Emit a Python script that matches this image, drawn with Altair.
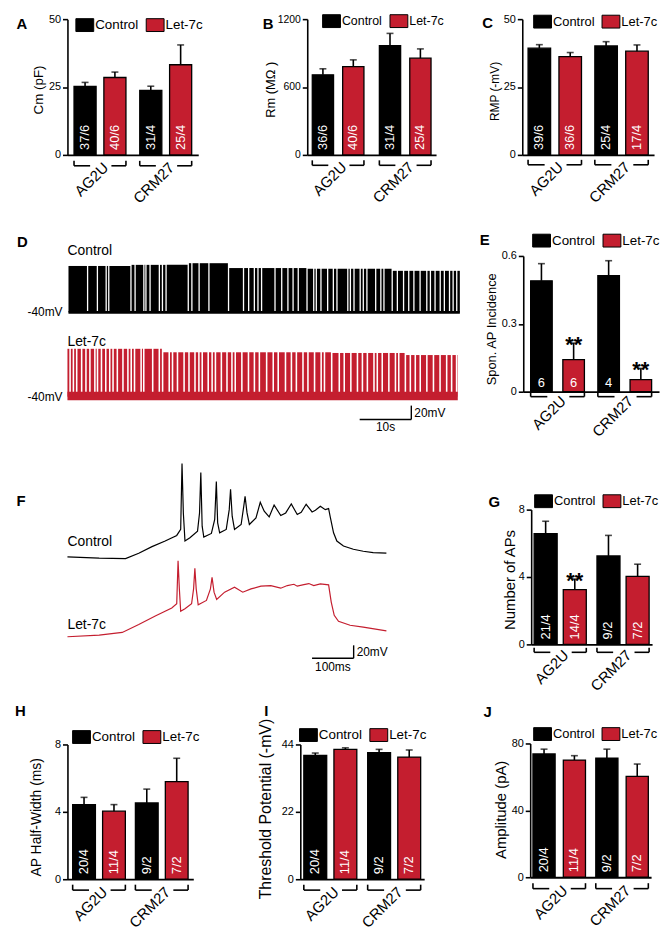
import altair as alt
import pandas as pd

RED = "#C41E2F"
FONT = "Liberation Sans, Arial, Helvetica, sans-serif"
VIEW_W, VIEW_H = 658, 922

GROUPS = ["AG2U", "CRM27"]
CONDS = ["Control", "Let-7c"]

# ---------------- bar-chart data: mean, s.e.m., n (cells/cultures) ----------------
A_mean = [25.2, 28.5, 23.8, 33.2]
A_sem = [1.5, 2.0, 1.5, 7.3]
A_n = ["37/6", "40/6", "31/4", "25/4"]

B_mean = [708, 781, 966, 855]
B_sem = [53, 59, 108, 82]
B_n = ["36/6", "40/6", "31/4", "25/4"]

C_mean = [39.3, 36.2, 40.1, 38.2]
C_sem = [1.3, 1.5, 1.6, 2.3]
C_n = ["39/6", "36/6", "25/4", "17/4"]

E_mean = [0.49, 0.142, 0.513, 0.053]
E_sem = [0.076, 0.073, 0.066, 0.05]
E_n = ["6", "6", "4", ""]
E_sig = ["", "**", "", "**"]

G_mean = [6.57, 3.25, 5.25, 4.04]
G_sem = [0.74, 0.63, 1.22, 0.72]
G_n = ["21/4", "14/4", "9/2", "7/2"]
G_sig = ["", "**", "", ""]

H_mean = [4.43, 4.04, 4.53, 5.8]
H_sem = [0.43, 0.39, 0.82, 1.38]
H_n = ["20/4", "11/4", "9/2", "7/2"]

I_mean = [40.4, 42.4, 41.3, 39.9]
I_sem = [0.8, 0.5, 1.1, 2.3]
I_n = ["20/4", "11/4", "9/2", "7/2"]

J_mean = [73.7, 70.1, 71.3, 60.3]
J_sem = [2.9, 2.6, 5.3, 7.4]
J_n = ["20/4", "11/4", "9/2", "7/2"]

# ---------------- D: spontaneous firing (pauses between spike runs, s) ----------------
D_BASE_MV = -40
D_CTRL_SPAN = [0.2, 76.0]
D_CTRL_PAUSES = [3.9, 5.8, 7.5, 8.0, 12.3, 13.1, 14.8, 15.2, 16.0, 17.8, 18.4, 19.1,
                 23.4, 24.1, 25.5, 27.4, 31.2, 34.1, 35.1, 36.2, 36.9, 37.6, 40.2, 41.5,
                 42.7, 43.7, 44.7, 46.4, 47.7, 48.2, 49.1, 50.4, 51.5, 52.2, 54.3, 54.8,
                 55.5, 56.7, 57.3, 58.0, 59.7, 60.7, 61.3, 62.9, 63.9, 65.1, 66.1, 67.1,
                 68.3, 69.6, 70.3, 71.2, 72.2, 73.0, 74.0, 74.7, 75.4]
D_CTRL_ENV_T = [0, 12, 23, 28, 45, 62]
D_CTRL_ENV_MV = [27, 28.6, 31, 24, 23, 20]

D_LET_SPAN = [0.0, 75.6]
D_LET_PAUSES = [0.51, 1.15, 1.79, 2.75, 3.58, 4.35, 5.31, 5.82, 6.59, 7.42, 8.19, 8.83,
                9.66, 10.75, 11.71, 12.35, 12.99, 14.27, 14.78, 16.51, 17.79, 18.43, 19.71,
                20.35, 21.31, 22.59, 23.54, 24.7, 25.46, 26.1, 27.26, 28.02, 28.66, 29.81,
                30.9, 31.86, 32.5, 33.78, 35.06, 36.21, 37.17, 38.58, 39.86, 40.82, 42.23,
                43.38, 44.34, 45.62, 46.58, 47.86, 49.14, 49.78, 51.18, 52.65, 53.61, 54.89,
                56.17, 57.13, 58.09, 59.37, 60.01, 60.97, 62.25, 63.53, 64.17, 65.45, 66.41,
                67.37, 68.33, 69.61, 70.89, 72.17, 73.45, 74.41, 75.37]
D_LET_ENV_T = [0, 18, 50, 65]
D_LET_ENV_MV = [29, 24, 23, 20]

# ---------------- F: evoked action potentials (ms, mV) ----------------
F_CTRL_T = [0, 76.2, 139.7, 171.4, 203.2, 234.9, 262.7, 272.2, 275.4, 278.6, 282.5, 294.4,
            312.7, 317.5, 320.6, 323.8, 327.8, 346.0, 354.0, 357.9, 361.1, 365.9, 381.7,
            388.9, 392.1, 396.0, 401.6, 417.5, 423.8, 427.0, 431.7, 437.3, 453.2, 463.5,
            473.0, 484.9, 496.8, 512.7, 524.6, 538.1, 552.4, 561.9, 573.8, 588.1, 596.0,
            607.9, 619.8, 627.8, 631.7, 639.7, 647.6, 663.5, 687.3, 711.1, 734.9, 766.7]
F_CTRL_MV = [-59.5, -61.5, -62.1, -53.8, -43.6, -34.9, -26.2, -16.9, 85.6, 8.7, -34.9, -29.7,
             -19.5, 8.7, 71.3, -11.8, -28.7, -23.1, -1.5, 57.4, -6.7, -22.1, -16.9,
             13.8, 45.6, 3.6, -16.9, -9.2, 19.0, 34.4, 8.7, -9.2, 1.0, 25.1,
             11.3, 2.6, 21.0, 4.6, 8.7, 22.6, 6.2, 9.7, 22.1, 10.3, 12.8,
             19.0, 13.8, 15.4, 2.6, -22.1, -34.9, -42.6, -47.7, -50.8, -52.8, -53.8]
F_LET_T = [0, 76.2, 131.7, 171.4, 211.1, 250.8, 262.7, 265.9, 269.0, 272.2, 282.5, 298.4,
           303.2, 306.3, 309.5, 314.3, 334.1, 343.7, 347.6, 352.4, 358.7, 377.8, 401.6,
           421.4, 441.3, 465.1, 488.9, 512.7, 528.6, 544.4, 552.4, 568.3, 580.2, 592.1,
           607.9, 627.8, 634.1, 641.3, 651.6, 679.4, 711.1, 766.7]
F_LET_MV = [-60, -57.4, -53.3, -41.0, -27.7, -15.4, -8.7, 57.9, 14.4, -20.5, -16.4, -8.7,
            14.4, 46.2, 14.4, -10.3, -3.6, 14.4, 32.3, 9.2, -2.1, 9.2, 16.9,
            9.2, 14.4, 18.5, 19.5, 15.4, 19.5, 21.5, 18.5, 21.0, 22.6, 19.5,
            22.1, 20.5, -6.2, -26.7, -35.9, -42.1, -45.1, -50.8]

# ---------------- layout / style (pixels in view coordinates) ----------------
BOX = "M-1,-0.72L1,-0.72L1,0.72L-1,0.72Z"
GAP = (0.31, 0.72)
LAYOUT = {
    "A": dict(box=(60, 192, 7, 144), ymax=50, ticks=[0, 25, 50], title="Cm (pF)", tfs=13.5, tx=-29.5, ty=78,
              lfs=11, pi=.21, po=.1, wpi=.26, br=11, bt=5, lp=5, leg=(68, 3.5), legfs=13.5, letter=(8.7, 12)),
    "B": dict(box=(302, 432, 7, 144), ymax=1200, ticks=[0, 600, 1200], title="Rm (MΩ )", tfs=13, tx=-37.5,
              ty=77.8, lfs=10.5, pi=.23, po=.075, wpi=.3, br=10.5, bt=5, lp=4.5, leg=(317, -0.5), legfs=12.5,
              letter=(257, 12)),
    "C": dict(box=(519, 652, 7, 144), ymax=50, ticks=[0, 25, 50], title="RMP (-mV)", tfs=12, tx=-28, ty=79.5,
              lfs=11, pi=.2, po=.087, wpi=.27, br=10, bt=5, lp=4.5, leg=(530, 0), legfs=13, letter=(478.7, 11)),
    "E": dict(box=(520, 657, 246, 383), ymax=0.6, ticks=[0, 0.3, 0.6], title="Spon. AP Incidence", tfs=13,
              tx=-31.8, ty=319.5, lfs=11, pi=.2, po=.11, wpi=.33, br=5, bt=4, lp=1.5, leg=(529, 221), legfs=13.5,
              letter=(476, 230), horiz=True),
    "G": dict(box=(528, 650, 502, 638), ymax=8, ticks=[0, 4, 8], title="Number of APs", tfs=15, tx=-22,
              ty=572.5, lfs=11, pi=.17, po=.047, wpi=.21, br=8, bt=4.5, lp=3, leg=(531, 484), legfs=13,
              letter=(485, 494)),
    "H": dict(box=(60, 187, 739, 875), ymax=8, ticks=[0, 4, 8], title="AP Half-Width (ms)", tfs=14, tx=-31.6,
              ty=812, lfs=11, pi=.16, po=.083, wpi=.24, br=11, bt=5.5, lp=5, leg=(64.7, 722), legfs=13.5,
              letter=(7, 705)),
    "I": dict(box=(295, 420, 739, 875), ymax=44, ticks=[0, 22, 44], title="Threshold Potential (-mV)", tfs=16,
              tx=-35.2, ty=803.7, lfs=11, pi=.17, po=.055, wpi=.24, br=11, bt=5.5, lp=5, leg=(293.7, 720),
              legfs=13.5, letter=(258.7, 705)),
    "J": dict(box=(527, 649, 738, 873), ymax=80, ticks=[0, 40, 80], title="Amplitude (pA)", tfs=15, tx=-30.2,
              ty=804.5, lfs=11, pi=.164, po=.044, wpi=.27, br=11.5, bt=5.5, lp=5.5, leg=(530, 719), legfs=13,
              letter=(480, 706)),
}


def one_row():
    return pd.DataFrame({"_": [0]})


def text_at(txt, x, y, size=14, weight="normal", align="left"):
    return alt.Chart(one_row()).mark_text(
        text=txt, align=align, baseline="middle", fontSize=size, fontWeight=weight, color="black"
    ).encode(x=alt.value(x), y=alt.value(y))


def bar_panel(key, mean, sem, n, sig=None):
    L = LAYOUT[key]
    x0, x1, yt, yb = L["box"]
    df = pd.DataFrame({
        "group": [g for g in GROUPS for _ in CONDS],
        "cond": CONDS * len(GROUPS),
        "mean": mean, "sem": sem, "n": n,
        "sig": sig if sig else [""] * len(mean),
    })
    df["top"] = df["mean"] + df["sem"]
    xs = alt.Scale(domain=GROUPS, range=[x0, x1], paddingInner=L["pi"], paddingOuter=L["po"])
    xax = alt.Axis(orient="bottom", offset=yb - VIEW_H, title=None, ticks=False, tickSize=0, grid=False,
                   domainColor="black", domainWidth=1.8, labelAngle=315, labelAlign="right",
                   labelBaseline="top", labelPadding=L["lp"], labelOffset=1, labelFontSize=15,
                   labelColor="black")
    ys = alt.Scale(domain=[0, L["ymax"]], range=[yb, yt], nice=False, zero=True)
    yax = alt.Axis(orient="left", offset=-x0, values=L["ticks"], format=".2~r", grid=False,
                   domainColor="black", domainWidth=1.6, tickColor="black", tickWidth=1.6, tickSize=5,
                   labelPadding=2, labelFontSize=L["lfs"], labelColor="black", title=L["title"],
                   titleFontSize=L["tfs"], titleFontWeight="normal", titleColor="black", titleAngle=270,
                   titleAlign="center", titleBaseline="middle", titleX=L["tx"], titleY=L["ty"])
    xo = alt.XOffset("cond:N", scale=alt.Scale(domain=CONDS, paddingInner=L["wpi"], paddingOuter=0))

    def X(**kw):
        return alt.X("group:N", scale=xs, axis=xax, **kw)

    def Y(f):
        return alt.Y(f, scale=ys, axis=yax)

    color = alt.Color("cond:N", scale=alt.Scale(domain=CONDS, range=["black", RED]),
                      legend=alt.Legend(title=None, orient="none", legendX=L["leg"][0], legendY=L["leg"][1],
                                        direction="horizontal", symbolType=BOX, symbolSize=324,
                                        symbolStrokeColor="black", symbolStrokeWidth=1, symbolOpacity=1,
                                        labelFontSize=L["legfs"], labelColor="black", labelOffset=1,
                                        columnPadding=5, padding=0))
    base = alt.Chart(df)
    layers = [
        base.mark_bar(stroke="black", strokeWidth=1.3).encode(x=X(), xOffset=xo, y=Y("mean:Q"), color=color),
        base.mark_rule(color="black", strokeWidth=1.6).encode(x=X(), xOffset=xo, y=Y("mean:Q"), y2="top:Q"),
        base.mark_tick(color="black", thickness=1.6, size=7, orient="horizontal").encode(
            x=X(), xOffset=xo, y=Y("top:Q")),
    ]
    cnt = base.transform_filter("datum.n != ''")
    if L.get("horiz"):
        cnt = cnt.mark_text(color="white", fontSize=13, align="center", baseline="middle", dy=-9)
    else:
        cnt = cnt.mark_text(color="white", fontSize=13, angle=270, align="left", baseline="middle", dx=5)
    layers.append(cnt.encode(x=X(), xOffset=xo, y=alt.Y(datum=0, scale=ys, axis=yax), text="n:N"))
    if sig:
        layers.append(base.transform_filter("datum.sig != ''").mark_text(
            fontSize=22, fontWeight="bold", align="center", baseline="alphabetic", dy=9, color="black"
        ).encode(x=X(), xOffset=xo, y=Y("top:Q"), text="sig:N"))
    gb = alt.Chart(pd.DataFrame({"group": GROUPS}))
    ybr = yb + L["br"]
    rk = dict(color="black", strokeWidth=1.6)
    layers += [
        gb.mark_rule(**rk).encode(x=X(bandPosition=0), x2=alt.X2("group:N", bandPosition=GAP[0]), y=alt.value(ybr)),
        gb.mark_rule(**rk).encode(x=X(bandPosition=GAP[1]), x2=alt.X2("group:N", bandPosition=1), y=alt.value(ybr)),
        gb.mark_rule(**rk).encode(x=X(bandPosition=0), y=alt.value(ybr - L["bt"]), y2=alt.value(ybr)),
        gb.mark_rule(**rk).encode(x=X(bandPosition=1), y=alt.value(ybr - L["bt"]), y2=alt.value(ybr)),
        text_at(key, *L["letter"], size=15, weight="bold"),
    ]
    return alt.layer(*layers)


def spike_panel(pauses, span, env_t, env_mv, gap, band, color, y_base_px, label, label_y, scalebar=False):
    xs = alt.Scale(domain=[0, 76], range=[60, 456], nice=False, zero=False)
    ys = alt.Scale(domain=[D_BASE_MV, D_BASE_MV + 20], range=[y_base_px, y_base_px - 14], nice=False, zero=False)
    edges = [span[0]] + list(pauses) + [span[1]]
    rows = []
    for i in range(len(edges) - 1):
        s = edges[i] + (gap / 2 if i > 0 else 0)
        e = edges[i + 1] - (gap / 2 if i + 1 < len(edges) - 1 else 0)
        pk = [v for tt, v in zip(env_t, env_mv) if tt <= s][-1]
        rows.append({"start": s, "end": e, "peak": pk, "base": D_BASE_MV})
    ep = pd.DataFrame(rows)
    bl = pd.DataFrame({"start": [span[0]], "end": [span[1]], "lo": [band[0]], "hi": [band[1]]})
    layers = [
        alt.Chart(bl).mark_rect(color=color).encode(
            x=alt.X("start:Q", scale=xs, axis=None), x2="end:Q",
            y=alt.Y("lo:Q", scale=ys, axis=None), y2="hi:Q"),
        alt.Chart(ep).mark_rect(color=color).encode(
            x=alt.X("start:Q", scale=xs, axis=None), x2="end:Q",
            y=alt.Y("base:Q", scale=ys, axis=None), y2="peak:Q"),
        alt.Chart(one_row()).mark_text(text="-40mV", align="right", baseline="middle", fontSize=12,
                                       color="black").encode(
            x=alt.value(55), y=alt.Y(datum=D_BASE_MV, scale=ys, axis=None)),
        text_at(label, 60, label_y, size=14),
    ]
    if scalebar:
        sb = pd.DataFrame({"t0": [56.6], "t1": [66.6], "tm": [61.6], "v0": [-72.9], "v1": [-52.9], "vm": [-62.9]})
        c = alt.Chart(sb)
        layers += [
            c.mark_rule(color="black", strokeWidth=1.4).encode(
                x=alt.X("t0:Q", scale=xs, axis=None), x2="t1:Q", y=alt.Y("v0:Q", scale=ys, axis=None)),
            c.mark_rule(color="black", strokeWidth=1.4).encode(
                x=alt.X("t1:Q", scale=xs, axis=None), y=alt.Y("v0:Q", scale=ys, axis=None), y2="v1:Q"),
            c.mark_text(text="20mV", align="left", baseline="middle", dx=3, fontSize=12, color="black").encode(
                x=alt.X("t1:Q", scale=xs, axis=None), y=alt.Y("vm:Q", scale=ys, axis=None)),
            c.mark_text(text="10s", align="center", baseline="middle", dy=8, fontSize=12, color="black").encode(
                x=alt.X("tm:Q", scale=xs, axis=None), y=alt.Y("v0:Q", scale=ys, axis=None)),
        ]
    return alt.layer(*layers)


def ap_panel(t, mv, color, y_base_px, label, label_y, scalebar=False):
    xs = alt.Scale(domain=[0, 767], range=[60, 382], nice=False, zero=False)
    ys = alt.Scale(domain=[-60, 0], range=[y_base_px, y_base_px - 39], nice=False, zero=False)
    df = pd.DataFrame({"t": t, "mv": mv, "i": list(range(len(t)))})
    layers = [
        alt.Chart(df).mark_line(color=color, strokeWidth=1.2).encode(
            x=alt.X("t:Q", scale=xs, axis=None), y=alt.Y("mv:Q", scale=ys, axis=None), order="i:Q"),
        text_at(label, 60, label_y, size=14),
    ]
    if scalebar:
        sb = pd.DataFrame({"t0": [588], "t1": [688], "tm": [638], "v0": [-93.3], "v1": [-73.3], "vm": [-83.3]})
        c = alt.Chart(sb)
        layers += [
            c.mark_rule(color="black", strokeWidth=1.4).encode(
                x=alt.X("t0:Q", scale=xs, axis=None), x2="t1:Q", y=alt.Y("v0:Q", scale=ys, axis=None)),
            c.mark_rule(color="black", strokeWidth=1.4).encode(
                x=alt.X("t1:Q", scale=xs, axis=None), y=alt.Y("v0:Q", scale=ys, axis=None), y2="v1:Q"),
            c.mark_text(text="20mV", align="left", baseline="middle", dx=3, fontSize=12, color="black").encode(
                x=alt.X("t1:Q", scale=xs, axis=None), y=alt.Y("vm:Q", scale=ys, axis=None)),
            c.mark_text(text="100ms", align="center", baseline="middle", dy=9, fontSize=12, color="black").encode(
                x=alt.X("tm:Q", scale=xs, axis=None), y=alt.Y("v0:Q", scale=ys, axis=None)),
        ]
    return alt.layer(*layers)


panels = [
    bar_panel("A", A_mean, A_sem, A_n),
    bar_panel("B", B_mean, B_sem, B_n),
    bar_panel("C", C_mean, C_sem, C_n),
    bar_panel("E", E_mean, E_sem, E_n, E_sig),
    bar_panel("G", G_mean, G_sem, G_n, G_sig),
    bar_panel("H", H_mean, H_sem, H_n),
    bar_panel("I", I_mean, I_sem, I_n),
    bar_panel("J", J_mean, J_sem, J_n),
    spike_panel(D_CTRL_PAUSES, D_CTRL_SPAN, D_CTRL_ENV_T, D_CTRL_ENV_MV, 0.25, (-42, -38), "black", 303,
                "Control", 241),
    spike_panel(D_LET_PAUSES, D_LET_SPAN, D_LET_ENV_T, D_LET_ENV_MV, 0.3, (-45, -33), RED, 388,
                "Let-7c", 333, scalebar=True),
    ap_panel(F_CTRL_T, F_CTRL_MV, "black", 550, "Control", 534.5),
    ap_panel(F_LET_T, F_LET_MV, RED, 630.3, "Let-7c", 618, scalebar=True),
    text_at("D", 9, 232, size=15, weight="bold"),
    text_at("F", 8.7, 493.7, size=15, weight="bold"),
]

chart = alt.layer(*panels).resolve_scale(
    x="independent", y="independent", color="independent", xOffset="independent"
).properties(
    width=VIEW_W, height=VIEW_H, autosize=alt.AutoSizeParams(type="none"), padding=0
).configure(font=FONT).configure_view(stroke=None)

chart.save("out.html", embed_options={"renderer": "svg", "actions": False})
